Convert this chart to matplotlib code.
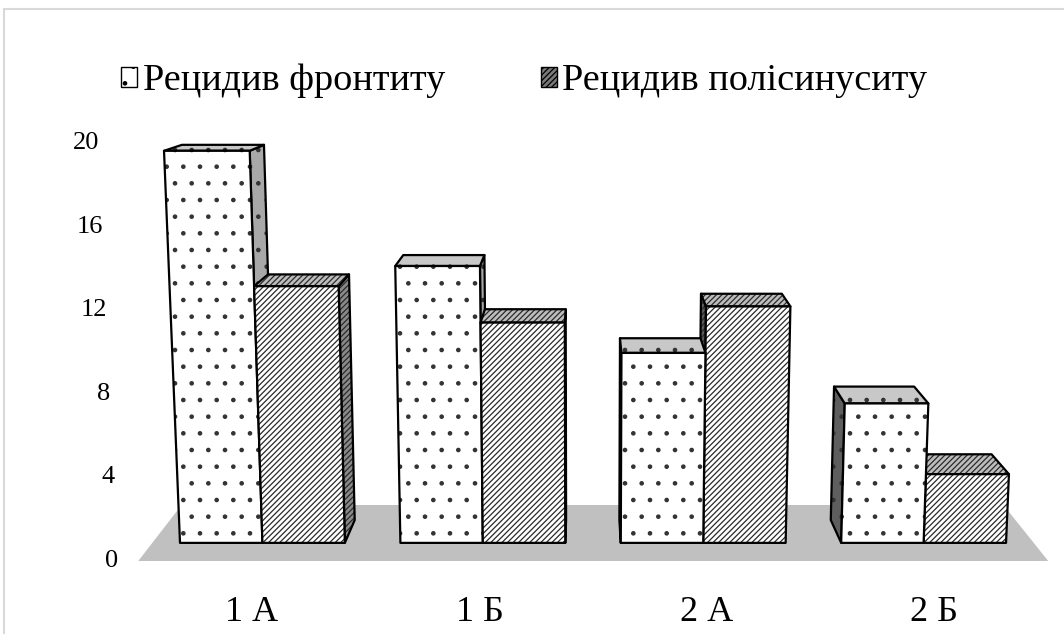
import matplotlib
matplotlib.use('Agg')
import matplotlib.pyplot as plt
from matplotlib.patches import Polygon, Rectangle, Patch

groups = ['1 А', '1 Б', '2 А', '2 Б']
series_names = ['Рецидив фронтиту', 'Рецидив полісинуситу']
frontitis = [19.4, 13.7, 9.4, 6.9]
polysinusitis = [12.7, 10.9, 11.7, 3.4]
yticks = [0, 4, 8, 12, 16, 20]

plt.rcParams['font.family'] = ['Liberation Serif', 'DejaVu Serif']
plt.rcParams['hatch.linewidth'] = 0.9

W, H = 1064, 634
fig = plt.figure(figsize=(W / 100, H / 100), dpi=100)
ax = fig.add_axes([0, 0, 1, 1])

# one x unit = one category step, one y unit = one value unit
px_x, px_y = 227.5, 20.9
x_origin, y_origin = 252, 561
ax.set_xlim(-x_origin / px_x, (W - x_origin) / px_x)
ax.set_ylim(-(H - y_origin) / px_y, y_origin / px_y)
ax.axis('off')

# perspective: vanishing point above the chart, slight keystone below
vp_x, vp_y = (586 - x_origin) / px_x, (y_origin - 12) / px_y
keystone = -(10500 - y_origin) / px_y


def proj(x, v, s):
    x1 = vp_x + (x - vp_x) * (1 - s)
    v1 = vp_y + (v - vp_y) * (1 - s)
    x2 = vp_x + (x1 - vp_x) * (v1 - keystone) / (-keystone)
    return x2, v1


bar_w = 0.374
s_front, s_back = 0.033, 0.0746
floor_depth = 0.102

# floor
n = len(groups)
floor = [proj(-0.5, 0, 0), proj(n - 0.5, 0, 0),
         proj(n - 0.5, 0, floor_depth), proj(-0.5, 0, floor_depth)]
ax.add_patch(Polygon(floor, closed=True, facecolor='#c0c0c0', edgecolor='none'))

styles = [
    dict(hatch='.', hcol='#333333', front='white', top='#c8c8c8', right='#a8a8a8', left='#5e5e5e'),
    dict(hatch='//////', hcol='#2a2a2a', front='white', top='#bdbdbd', right='#8a8a8a', left='#5a5a5a'),
]

bars = []
for i in range(n):
    bars.append((i - bar_w, i, frontitis[i], styles[0]))
    bars.append((i, i + bar_w, polysinusitis[i], styles[1]))

# paint the bars farthest from the vanishing point first
bars.sort(key=lambda b: -abs((b[0] + b[1]) / 2 - vp_x))

for x0, x1, h, st in bars:
    faces = []
    if x1 < vp_x:
        faces.append(([proj(x1, 0, s_front), proj(x1, 0, s_back),
                       proj(x1, h, s_back), proj(x1, h, s_front)], st['right']))
    elif x0 > vp_x:
        faces.append(([proj(x0, 0, s_front), proj(x0, 0, s_back),
                       proj(x0, h, s_back), proj(x0, h, s_front)], st['left']))
    faces.append(([proj(x0, h, s_front), proj(x1, h, s_front),
                   proj(x1, h, s_back), proj(x0, h, s_back)], st['top']))
    faces.append(([proj(x0, 0, s_front), proj(x1, 0, s_front),
                   proj(x1, h, s_front), proj(x0, h, s_front)], st['front']))
    for pts, col in faces:
        ax.add_patch(Polygon(pts, closed=True, facecolor=col, edgecolor=st['hcol'],
                             hatch=st['hatch'], linewidth=0))
        ax.add_patch(Polygon(pts, closed=True, fill=False, edgecolor='black',
                             linewidth=1.6, joinstyle='round'))

# value labels along the left edge of the floor
for t in yticks:
    ax.annotate(str(t), xy=proj(-0.5, t, 0), xytext=(-20, 0),
                textcoords='offset pixels', ha='right', va='center', fontsize=19)

for i, g in enumerate(groups):
    ax.text(i, -2.45, g, ha='center', va='center', fontsize=26)

handles = [Patch(facecolor='white', edgecolor='black', hatch='.', label=series_names[0]),
           Patch(facecolor='#7a7a7a', edgecolor='black', hatch='//////', label=series_names[1])]
fig.legend(handles=handles, loc='center left', bbox_to_anchor=(121 / W, 1 - 81 / H),
           ncol=2, frameon=False, fontsize=27.5, handlelength=0.42, handleheight=0.42,
           handletextpad=0.15, columnspacing=2.5, borderpad=0, borderaxespad=0)

# light frame of the chart area
fig.add_artist(Rectangle((4 / W, -0.1), 1.2, 1.1 - 9 / H, transform=fig.transFigure,
                         fill=False, edgecolor='#d9d9d9', linewidth=1.5))

fig.savefig('out.png', dpi=100)
